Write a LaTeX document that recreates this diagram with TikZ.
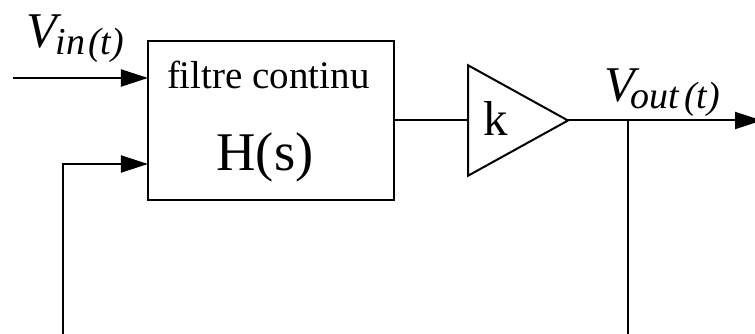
\documentclass[tikz,border=0pt]{standalone}
\usepackage{fontspec}
\setmainfont{Liberation Serif}
\usepackage{tikz}
\usetikzlibrary{arrows.meta,shapes.geometric}

\newcommand{\sizedtext}[2]{{\fontsize{#1}{#1}\selectfont #2}}
\newcommand{\voltage}[3]{\itshape\sizedtext{50}{V}\kern#1\raisebox{-6.5pt}{\sizedtext{38}{#2\kern#3(t)}}}

\tikzset{
	block/.style={draw, rectangle, line width=2pt, inner sep=0pt, outer sep=0pt},
	gain/.style={draw, isosceles triangle, isosceles triangle stretches,
		shape border rotate=0, line width=2pt, inner sep=0pt, outer sep=0pt},
	wire/.style={line width=2pt},
	signal/.style={wire, -{Triangle[length=27pt, width=17pt]}},
	caption/.style={anchor=base west, inner sep=0pt, outer sep=0pt},
}

\begin{document}
\begin{tikzpicture}[x=1pt, y=-1pt]

% frame %{{{2

	\useasboundingbox (0,0) rectangle (755,334);

% blocks %{{{2

	\node[block, minimum width=246.5pt, minimum height=159pt] (filter) at (271.2,120.5) {};
	\node[gain, minimum width=110.5pt, minimum height=100pt, anchor=west] (amp) at (468,120.5) {};

% coordinates %{{{2

	\coordinate (in) at (13,78);
	\coordinate (back) at (62.5,164);
	\coordinate (backend) at (62.5,340);
	\coordinate (out) at (762,120.5);
	\coordinate (tap) at (627.5,120.5);
	\coordinate (tapend) at (627.5,340);

% connectors %{{{2

	\draw[signal] (in) -- (in -| filter.west);
	\draw[signal] (backend) -- (back) -- (back -| filter.west);
	\draw[wire] (filter.east) -- (amp.west);
	\draw[signal] (amp.east) -- (out);
	\draw[wire] (tap) -- (tapend);

% labels %{{{2

	\node[caption] (title) at (167,89) {\sizedtext{39}{filtre continu}};
	\node[caption] (transfer) at (216.5,171) {\sizedtext{54.5}{H(s)}};
	\node[caption] (factor) at (483,136) {\sizedtext{49}{k}};
	\node[caption] (vin) at (27,48) {\voltage{-2pt}{in}{3pt}};
	\node[caption] (vout) at (604,102) {\voltage{-4pt}{out}{5pt}};

% closing %{{{2

\end{tikzpicture}
\end{document}
